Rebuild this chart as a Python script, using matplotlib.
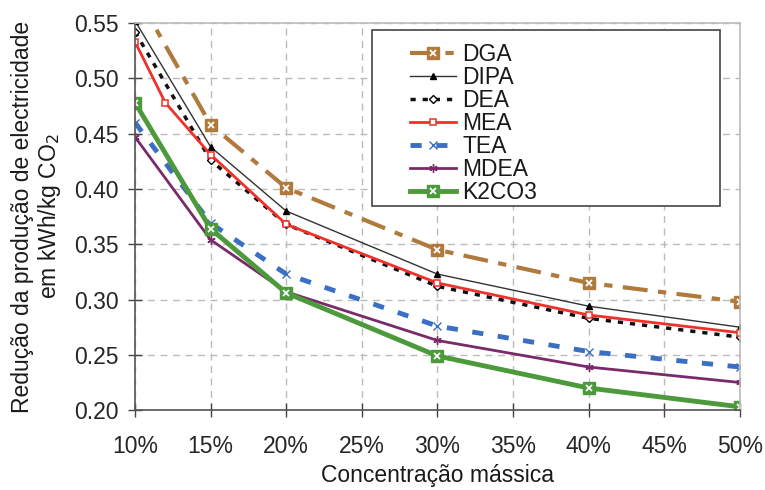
import matplotlib.pyplot as plt
from matplotlib.legend_handler import HandlerTuple
from matplotlib.patches import Rectangle

plt.rcParams['font.family'] = ['Liberation Sans', 'DejaVu Sans']

# ======================
# DATA
# ======================
conc = [10, 15, 20, 30, 40, 50]
conc_mea = [10, 12, 15, 20, 30, 40, 50]

dga = [0.578, 0.458, 0.401, 0.345, 0.315, 0.298]
dipa = [0.552, 0.438, 0.380, 0.323, 0.294, 0.275]
dea = [0.542, 0.426, 0.368, 0.312, 0.283, 0.266]
mea = [0.533, 0.478, 0.431, 0.368, 0.315, 0.286, 0.270]
tea = [0.460, 0.369, 0.323, 0.276, 0.253, 0.239]
mdea = [0.447, 0.354, 0.307, 0.263, 0.239, 0.225]
k2co3 = [0.478, 0.364, 0.306, 0.249, 0.220, 0.203]

x_ticks = [10, 15, 20, 25, 30, 35, 40, 45, 50]
x_labels = ['10%', '15%', '20%', '25%', '30%', '35%', '40%', '45%', '50%']
y_ticks = [0.20, 0.25, 0.30, 0.35, 0.40, 0.45, 0.50, 0.55]

c_dga = '#B07A3C'
c_dipa = '#333333'
c_dea = '#111111'
c_mea = '#F0302A'
c_tea = '#3A6FC4'
c_mdea = '#7A2A6A'
c_k2co3 = '#4C9A3C'

# ======================
# FIGURE
# ======================
fig = plt.figure(figsize=(7.65, 4.9), dpi=100)
ax = fig.add_axes([0.1765, 0.163, 0.7905, 0.79])

l_dga, = ax.plot(conc, dga, color=c_dga, lw=3, dashes=(6, 2.5, 2, 2.5),
                 marker='s', ms=8, mfc=c_dga, mec=c_dga)
x_dga, = ax.plot(conc, dga, ls='none', marker='x', ms=4.5, mec='white', mew=1.3)

l_dipa, = ax.plot(conc, dipa, color=c_dipa, lw=1, marker='^', ms=5,
                  mfc='black', mec='black')
l_dea, = ax.plot(conc, dea, color=c_dea, lw=2.5, dashes=(1.5, 2),
                 marker='D', ms=4, mfc='white', mec='black', mew=1)
l_mea, = ax.plot(conc_mea, mea, color=c_mea, lw=2, marker='s', ms=5,
                 mfc='white', mec=c_mea, mew=1.1)
l_tea, = ax.plot(conc, tea, color=c_tea, lw=3.5, dashes=(2.3, 3),
                 marker='x', ms=5.5, mec=c_tea, mew=1)
l_mdea, = ax.plot(conc, mdea, color=c_mdea, lw=2, marker=(6, 2, 0), ms=6,
                  mec=c_mdea, mew=1)

l_k2, = ax.plot(conc, k2co3, color=c_k2co3, lw=3.5, marker='s', ms=8,
                mfc=c_k2co3, mec=c_k2co3)
x_k2, = ax.plot(conc, k2co3, ls='none', marker='x', ms=4.5, mec='white', mew=1.3)

# ======================
# AXES
# ======================
ax.set_xlim(10, 50)
ax.set_ylim(0.20, 0.55)
ax.set_xticks(x_ticks)
ax.set_xticklabels(x_labels)
ax.set_yticks(y_ticks)
ax.set_yticklabels(['%.2f' % v for v in y_ticks])
ax.tick_params(axis='both', direction='inout', length=10, width=1,
               color='#444444', labelsize=16.5, labelcolor='#262626')
ax.tick_params(axis='x', pad=13)
ax.tick_params(axis='y', pad=7)

ax.grid(True, color='#BBBBBB', lw=1, dashes=(5, 4))
ax.set_axisbelow(True)

for s in ['left', 'bottom']:
    ax.spines[s].set_color('#555555')
    ax.spines[s].set_linewidth(1.2)
for s in ['top', 'right']:
    ax.spines[s].set_color('#BBBBBB')
    ax.spines[s].set_linewidth(1.2)

ax.set_xlabel('Concentração mássica', fontsize=16.5, color='#1a1a1a', labelpad=4)
ax.set_ylabel('Redução da produção de electricidade\nem kWh/kg CO$_2$',
              fontsize=16.5, color='#1a1a1a', labelpad=8, linespacing=1.1)

# ======================
# LEGEND
# ======================
ax.add_patch(Rectangle((0.392, 0.527), 0.575, 0.455, transform=ax.transAxes,
                       facecolor='white', edgecolor='#444444', lw=1.2,
                       zorder=5, clip_on=False))
handles = [(l_dga, x_dga), l_dipa, l_dea, l_mea, l_tea, l_mdea, (l_k2, x_k2)]
names = ['DGA', 'DIPA', 'DEA', 'MEA', 'TEA', 'MDEA', 'K2CO3']
leg = ax.legend(handles, names, loc='upper left', bbox_to_anchor=(0.428, 0.99),
                frameon=False, fontsize=16.5, handlelength=2.0, handletextpad=0.3,
                labelspacing=0.0, borderpad=0.2, numpoints=1,
                handler_map={tuple: HandlerTuple(ndivide=1)})
leg.set_zorder(6)
for t in leg.get_texts():
    t.set_color('#1a1a1a')

fig.savefig('out.png', dpi=100)
